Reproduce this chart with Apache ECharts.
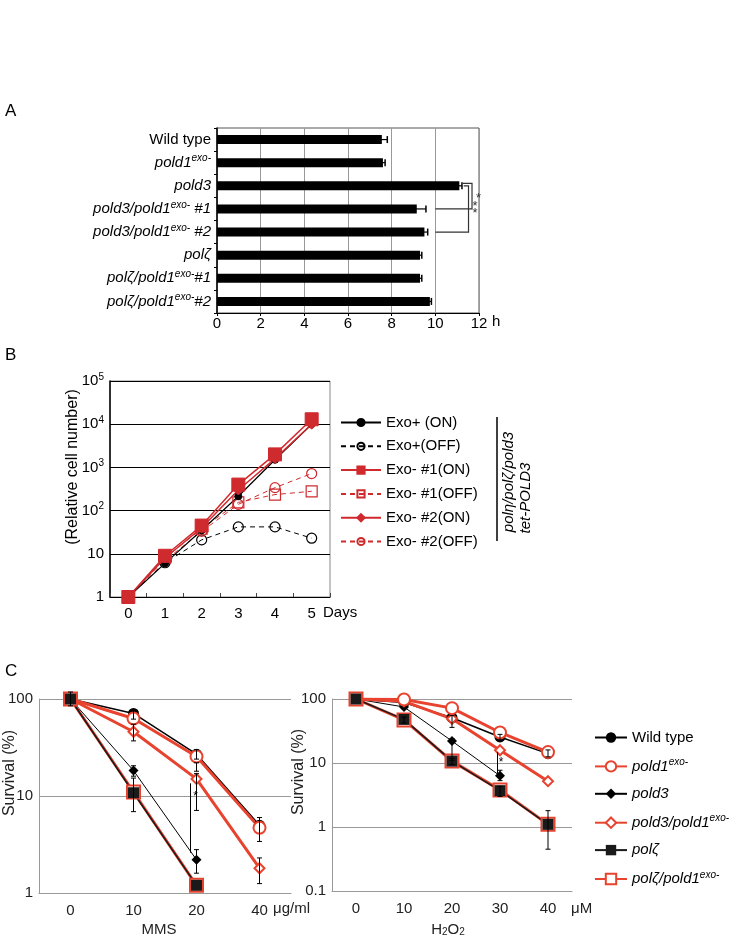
<!DOCTYPE html>
<html><head><meta charset="utf-8">
<script src="https://cdn.jsdelivr.net/npm/echarts@6/dist/echarts.min.js"></script>
<style>html,body{margin:0;padding:0;background:#fff}#c{width:736px;height:941px}</style>
</head><body><div id="c"></div>
<script>
// ---------- Panel A: cell cycle time (h) ----------
const aCategories = ['Wild type','pold1exo-','pold3','pold3/pold1exo- #1','pold3/pold1exo- #2','polζ','polζ/pold1exo-#1','polζ/pold1exo-#2'];
const aValues = [7.55, 7.6, 11.1, 9.15, 9.5, 9.3, 9.3, 9.75];
const aErrors = [0.25, 0.1, 0.12, 0.42, 0.15, 0.08, 0.08, 0.07];
const aTicks = [0, 2, 4, 6, 8, 10, 12];
// brackets: [xStart, rowFrom, xCorner, rowTo, xEnd, label]
const aBrackets = [[11.25, 2, 11.68, 3, 10.0, '*'], [11.3, 2, 11.52, 4, 10.0, '*\n*']];

// ---------- Panel B: relative cell number ----------
const bDays = ['0','1','2','3','4','5'];
const bNames = ['Exo+ (ON)','Exo+(OFF)','Exo- #1(ON)','Exo- #1(OFF)','Exo- #2(ON)','Exo- #2(OFF)'];
const bExoPlusOn  = [1, 6, 35, 215, 1500, 10000];
const bExoPlusOff = [1, 6.2, 21, 42, 42, 23];
const bExo1On     = [1, 9, 45, 400, 2000, 13000];
const bExo1Off    = [1, 8, 38, 155, 235, 280];
const bExo2On     = [1, 8, 40, 300, 1600, 10000];
const bExo2Off    = [1, 7, 33, 140, 340, 720];

// ---------- Panel C: survival (%) ----------
const cNames = ['Wild type','pold1exo-','pold3','pold3/pold1exo-','polζ','polζ/pold1exo-'];
const cMmsDoses = ['0','10','20','40'];
const cMmsWildType        = [100, 71, 27, 5.0];
const cMmsPold1Exo        = [100, 63, 25.5, 4.7];
const cMmsPold3           = [100, 18.3, 2.2, null];
const cMmsPold3Pold1Exo   = [100, 46, 15, 1.8];
const cMmsPolZeta         = [100, 10.8, 1.2, null];
const cMmsPolZetaPold1Exo = [100, 11, 1.2, null];
const cMmsErrorBars = [[0,85,118],[1,62,78],[1,37,55],[1,16,20.5],[1,6.9,15.3],[2,24,30],[2,18,22],[2,7.1,17],[2,1.6,2.8],[3,3.4,6],[3,1.25,2.3]];
const cMmsSig = [[2, 2.6, 13.5, 9.8]];

const cH2o2Doses = ['0','10','20','30','40'];
const cH2o2WildType        = [100, 88, 51, 25.5, 14];
const cH2o2Pold1Exo        = [100, 98, 72, 30, 14.8];
const cH2o2Pold3           = [100, 75, 22, 6.3, null];
const cH2o2Pold3Pold1Exo   = [100, 92, 49, 15.8, 5.2];
const cH2o2PolZeta         = [100, 48, 10.7, 3.7, 1.1];
const cH2o2PolZetaPold1Exo = [100, 47, 10.7, 3.8, 1.1];
const cH2o2ErrorBars = [[1,42,52],[2,36,55],[2,11,24],[2,9.5,11.8],[3,5.3,7.7],[3,3,4.3],[3,22,28],[4,0.45,1.8],[4,12.5,16]];
const cH2o2Sig = [[3, 6.8, 14.8, 10]];

// ---------- helpers ----------
const FONT = 'Liberation Sans, Arial, Helvetica, sans-serif';
const RED_B = '#cf2a2e';
const RED_C = '#e8432e';
const GRAY = '#999';

function geneRich(name) {
  if (name === 'Wild type') return '{n|Wild type}';
  const parts = name.split('exo-');
  return parts.map((p, i) => (p ? '{i|' + p + '}' : '') + (i < parts.length - 1 ? '{s|exo-}' : '')).join('');
}
function richStyles(size) {
  return {
    n: {fontSize: size, fontFamily: FONT, color: '#000', lineHeight: size + 3},
    i: {fontSize: size, fontFamily: FONT, fontStyle: 'italic', color: '#000', lineHeight: size + 3},
    s: {fontSize: Math.round(size * 0.68), fontFamily: FONT, fontStyle: 'italic', color: '#000', verticalAlign: 'top', lineHeight: Math.round(size * 0.68)}
  };
}
function pow10Label(v) {
  const e = Math.round(Math.log10(v));
  if (e === 0) return '{b|1}';
  if (e === 1) return '{b|10}';
  return '{b|10}{p|' + e + '}';
}

function errBarRenderer(capHalf, horizontal) {
  return function (params, api) {
    let p1, p2;
    if (horizontal) {
      p1 = api.coord([api.value(1), api.value(0)]);
      p2 = api.coord([api.value(2), api.value(0)]);
      return {type: 'group', children: [
        {type: 'line', shape: {x1: p1[0], y1: p1[1], x2: p2[0], y2: p2[1]}, style: {stroke: '#000', lineWidth: 1.2}},
        {type: 'line', shape: {x1: p2[0], y1: p2[1] - capHalf, x2: p2[0], y2: p2[1] + capHalf}, style: {stroke: '#000', lineWidth: 1.5}}
      ]};
    }
    p1 = api.coord([api.value(0), api.value(1)]);
    p2 = api.coord([api.value(0), api.value(2)]);
    return {type: 'group', children: [
      {type: 'line', shape: {x1: p1[0], y1: p1[1], x2: p2[0], y2: p2[1]}, style: {stroke: '#000', lineWidth: 1}},
      {type: 'line', shape: {x1: p1[0] - capHalf, y1: p1[1], x2: p1[0] + capHalf, y2: p1[1]}, style: {stroke: '#000', lineWidth: 1}},
      {type: 'line', shape: {x1: p2[0] - capHalf, y1: p2[1], x2: p2[0] + capHalf, y2: p2[1]}, style: {stroke: '#000', lineWidth: 1}}
    ]};
  };
}
function sigRenderer(offset, textOffset) {
  return function (params, api) {
    const x = api.value(0);
    const p1 = api.coord([x, api.value(1)]);
    const p2 = api.coord([x, api.value(2)]);
    const pt = api.coord([x, api.value(3)]);
    return {type: 'group', children: [
      {type: 'line', shape: {x1: p1[0] + offset, y1: p1[1], x2: p2[0] + offset, y2: p2[1]}, style: {stroke: '#000', lineWidth: 1}},
      {type: 'text', x: pt[0] + textOffset, y: pt[1], style: {text: '*', fontSize: 12, fontFamily: FONT, fill: '#000', align: 'center', verticalAlign: 'middle'}}
    ]};
  };
}

function lineB(name, data, color, dashed, symbol, size, filled, width) {
  return {
    name, type: 'line', xAxisIndex: 1, yAxisIndex: 1, data,
    symbol, symbolSize: size,
    lineStyle: {color, width: width, type: dashed ? [5, 4] : 'solid'},
    itemStyle: filled ? {color, borderColor: color, borderWidth: 1} : {color: 'rgba(255,255,255,0)', borderColor: color, borderWidth: 1.2},
    emphasis: {disabled: true}, animation: false
  };
}
function lineC(axis, name, data, color, symbol, size, filled, width) {
  return {
    name, type: 'line', xAxisIndex: axis, yAxisIndex: axis, data,
    symbol, symbolSize: size,
    lineStyle: {color, width},
    itemStyle: filled ? {color, borderColor: color, borderWidth: 0} : {color: '#fff', borderColor: color, borderWidth: 2},
    emphasis: {disabled: true}, animation: false
  };
}
function cSeries(axis, wt, p1, p3, p3p1, pz, pzp1) {
  return [
    lineC(axis, 'Wild type', wt, '#000', 'circle', 11, true, 1.5),
    lineC(axis, 'pold3', p3, '#000', 'diamond', 10, true, 1),
    lineC(axis, 'pold3/pold1exo-', p3p1, RED_C, 'diamond', 10, false, 3),
    lineC(axis, 'pold1exo-', p1, RED_C, 'circle', 12, false, 3),
    lineC(axis, 'polζ/pold1exo-', pzp1, RED_C, 'rect', 13, false, 3),
    lineC(axis, 'polζ', pz, '#1a1a1a', 'rect', 11, true, 1.5)
  ];
}

const axisLabelC = {fontSize: 15, color: '#222', fontFamily: FONT};

const option = {
  animation: false,
  textStyle: {fontFamily: FONT},
  grid: [
    {left: 217, top: 128, width: 262, height: 185, show: true, borderColor: '#555', borderWidth: 1},
    {left: 110, top: 381, width: 220, height: 216, show: true, borderColor: '#888', borderWidth: 1},
    {left: 39, top: 699, width: 252, height: 194},
    {left: 332, top: 699, width: 240, height: 192}
  ],
  xAxis: [
    {type: 'value', gridIndex: 0, min: aTicks[0], max: aTicks[aTicks.length - 1], interval: 2,
      axisLine: {show: true, lineStyle: {color: '#000', width: 1.2}}, axisTick: {show: true, length: 3, lineStyle: {color: '#000'}},
      axisLabel: {fontSize: 15, color: '#000', margin: 3, formatter: v => aTicks.includes(v) ? String(v) : ''},
      splitLine: {show: true, lineStyle: {color: GRAY, width: 1}}},
    {type: 'category', gridIndex: 1, data: bDays, boundaryGap: true,
      axisLine: {show: true, lineStyle: {color: '#000', width: 1.2}}, axisTick: {show: true, inside: true, length: 4, lineStyle: {color: '#444'}},
      axisLabel: {fontSize: 15, color: '#000', margin: 9}, splitLine: {show: false}},
    {type: 'category', gridIndex: 2, data: cMmsDoses, boundaryGap: true,
      axisLine: {show: true, lineStyle: {color: GRAY}}, axisTick: {show: false}, axisLabel: Object.assign({margin: 10}, axisLabelC)},
    {type: 'category', gridIndex: 3, data: cH2o2Doses, boundaryGap: true,
      axisLine: {show: true, lineStyle: {color: GRAY}}, axisTick: {show: false}, axisLabel: Object.assign({margin: 10}, axisLabelC)}
  ],
  yAxis: [
    {type: 'category', gridIndex: 0, data: aCategories, inverse: true,
      axisLine: {show: true, lineStyle: {color: '#000', width: 1.5}}, axisTick: {show: true, length: 3, lineStyle: {color: '#000'}},
      axisLabel: {margin: 6, formatter: v => geneRich(v), rich: richStyles(15)}},
    {type: 'log', gridIndex: 1, logBase: 10, min: 1, max: 100000,
      axisLine: {show: true, lineStyle: {color: '#000', width: 1.5}}, axisTick: {show: false},
      axisLabel: {margin: 6, formatter: pow10Label, rich: {
        b: {fontSize: 15, color: '#000', fontFamily: FONT, lineHeight: 18},
        p: {fontSize: 10, color: '#000', fontFamily: FONT, verticalAlign: 'top', lineHeight: 10}}},
      splitLine: {show: true, lineStyle: {color: '#000', width: 1.2}}},
    {type: 'log', gridIndex: 2, logBase: 10, min: 1, max: 100,
      axisLine: {show: true, lineStyle: {color: GRAY}}, axisTick: {show: false},
      axisLabel: Object.assign({margin: 6}, axisLabelC), splitLine: {show: true, lineStyle: {color: GRAY}}},
    {type: 'log', gridIndex: 3, logBase: 10, min: 0.1, max: 100,
      axisLine: {show: true, lineStyle: {color: GRAY}}, axisTick: {show: false},
      axisLabel: Object.assign({margin: 6}, axisLabelC), splitLine: {show: true, lineStyle: {color: GRAY}}}
  ],
  legend: [
    {data: bNames, orient: 'vertical', left: 340, top: 415, padding: 0, itemWidth: 40, itemHeight: 9, itemGap: 8.8,
      selectedMode: false, textStyle: {fontSize: 15, color: '#000', fontFamily: FONT}},
    {data: cNames, orient: 'vertical', left: 594, top: 730, padding: 0, itemWidth: 32, itemHeight: 13, itemGap: 12.4,
      selectedMode: false, formatter: n => geneRich(n), textStyle: {rich: richStyles(15)}}
  ],
  series: [
    {name: 'cycle', type: 'bar', xAxisIndex: 0, yAxisIndex: 0, data: aValues, barWidth: 9,
      itemStyle: {color: '#000'}, emphasis: {disabled: true}},
    {type: 'custom', xAxisIndex: 0, yAxisIndex: 0, encode: {x: [1, 2], y: 0}, z: 5,
      data: aValues.map((v, i) => [i, v - aErrors[i], v + aErrors[i]]),
      renderItem: errBarRenderer(3.5, true)},
    {type: 'custom', xAxisIndex: 0, yAxisIndex: 0, encode: {x: [0, 2, 4], y: [1, 3]}, z: 5,
      data: aBrackets,
      renderItem: function (params, api) {
        const a = api.coord([api.value(0), api.value(1)]);
        const b = api.coord([api.value(2), api.value(1)]);
        const c = api.coord([api.value(2), api.value(3)]);
        const d = api.coord([api.value(4), api.value(3)]);
        const up = params.dataIndex === 0 ? -2.5 : 0;
        return {type: 'group', children: [
          {type: 'polyline', shape: {points: [[a[0], a[1] + up], [b[0], b[1] + up], [c[0], c[1]], [d[0], d[1]]]},
            style: {stroke: '#333', lineWidth: 1.2, fill: null}},
          {type: 'text', x: b[0] + 4, y: (b[1] + c[1]) / 2 + 1,
            style: {text: aBrackets[params.dataIndex][5], fontSize: 13, lineHeight: 7, fontFamily: FONT, fill: '#333', align: 'left', verticalAlign: 'middle'}}
        ]};
      }},
    lineB(bNames[1], bExoPlusOff, '#000', true, 'circle', 10, false, 1),
    lineB(bNames[3], bExo1Off, RED_B, true, 'rect', 11, false, 1),
    lineB(bNames[5], bExo2Off, RED_B, true, 'circle', 10, false, 1),
    lineB(bNames[0], bExoPlusOn, '#000', false, 'circle', 7, true, 1.2),
    lineB(bNames[4], bExo2On, RED_B, false, 'diamond', 10, true, 1.5),
    lineB(bNames[2], bExo1On, RED_B, false, 'rect', 13, true, 1.5),
    ...cSeries(2, cMmsWildType, cMmsPold1Exo, cMmsPold3, cMmsPold3Pold1Exo, cMmsPolZeta, cMmsPolZetaPold1Exo),
    ...cSeries(3, cH2o2WildType, cH2o2Pold1Exo, cH2o2Pold3, cH2o2Pold3Pold1Exo, cH2o2PolZeta, cH2o2PolZetaPold1Exo),
    {type: 'custom', xAxisIndex: 2, yAxisIndex: 2, encode: {x: 0, y: [1, 2]}, z: 6, data: cMmsErrorBars, renderItem: errBarRenderer(2.5, false)},
    {type: 'custom', xAxisIndex: 3, yAxisIndex: 3, encode: {x: 0, y: [1, 2]}, z: 6, data: cH2o2ErrorBars, renderItem: errBarRenderer(2.5, false)},
    {type: 'custom', xAxisIndex: 2, yAxisIndex: 2, encode: {x: 0, y: [1, 2]}, z: 6, data: cMmsSig, renderItem: sigRenderer(-6, -1)},
    {type: 'custom', xAxisIndex: 3, yAxisIndex: 3, encode: {x: 0, y: [1, 2]}, z: 6, data: cH2o2Sig, renderItem: sigRenderer(-2.5, 1)}
  ],
  graphic: [
    {type: 'text', x: 5, y: 103, style: {text: 'A', fontSize: 17, fontFamily: FONT, fill: '#000'}},
    {type: 'text', x: 5, y: 347, style: {text: 'B', fontSize: 17, fontFamily: FONT, fill: '#000'}},
    {type: 'text', x: 5, y: 663, style: {text: 'C', fontSize: 17, fontFamily: FONT, fill: '#000'}},
    {type: 'text', x: 492, y: 314, style: {text: 'h', fontSize: 15, fontFamily: FONT, fill: '#000'}},
    {type: 'text', x: 323, y: 605, style: {text: 'Days', fontSize: 15, fontFamily: FONT, fill: '#000'}},
    {type: 'text', x: 73, y: 467, rotation: Math.PI / 2, style: {text: '(Relative cell number)', fontSize: 16, fontFamily: FONT, fill: '#000', align: 'center', verticalAlign: 'middle'}},
    {type: 'line', shape: {x1: 497, y1: 417, x2: 497, y2: 541}, style: {stroke: '#000', lineWidth: 1.5}},
    {type: 'text', x: 509, y: 482, rotation: Math.PI / 2, style: {text: 'polη/polζ/pold3', fontSize: 15, fontStyle: 'italic', fontFamily: FONT, fill: '#000', align: 'center', verticalAlign: 'middle'}},
    {type: 'text', x: 526, y: 498, rotation: Math.PI / 2, style: {text: 'tet-POLD3', fontSize: 15, fontStyle: 'italic', fontFamily: FONT, fill: '#000', align: 'center', verticalAlign: 'middle'}},
    {type: 'text', x: 10, y: 773, rotation: Math.PI / 2, style: {text: 'Survival (%)', fontSize: 16, fontFamily: FONT, fill: '#222', align: 'center', verticalAlign: 'middle'}},
    {type: 'text', x: 299, y: 772, rotation: Math.PI / 2, style: {text: 'Survival (%)', fontSize: 16, fontFamily: FONT, fill: '#222', align: 'center', verticalAlign: 'middle'}},
    {type: 'text', x: 273, y: 901, style: {text: 'μg/ml', fontSize: 15, fontFamily: FONT, fill: '#222'}},
    {type: 'text', x: 571, y: 901, style: {text: 'μM', fontSize: 15, fontFamily: FONT, fill: '#222'}},
    {type: 'text', x: 159, y: 930, style: {text: 'MMS', fontSize: 15, fontFamily: FONT, fill: '#222', align: 'center', verticalAlign: 'middle'}},
    {type: 'text', x: 448, y: 930, style: {text: 'H{s|2}O{s|2}', fontSize: 15, fontFamily: FONT, fill: '#222', align: 'center', verticalAlign: 'middle',
      rich: {s: {fontSize: 10, fontFamily: FONT, fill: '#222', verticalAlign: 'bottom', lineHeight: 10}}}}
  ]
};

const chart = echarts.init(document.getElementById('c'), null, {renderer: 'canvas'});
chart.setOption(option);
</script></body></html>
